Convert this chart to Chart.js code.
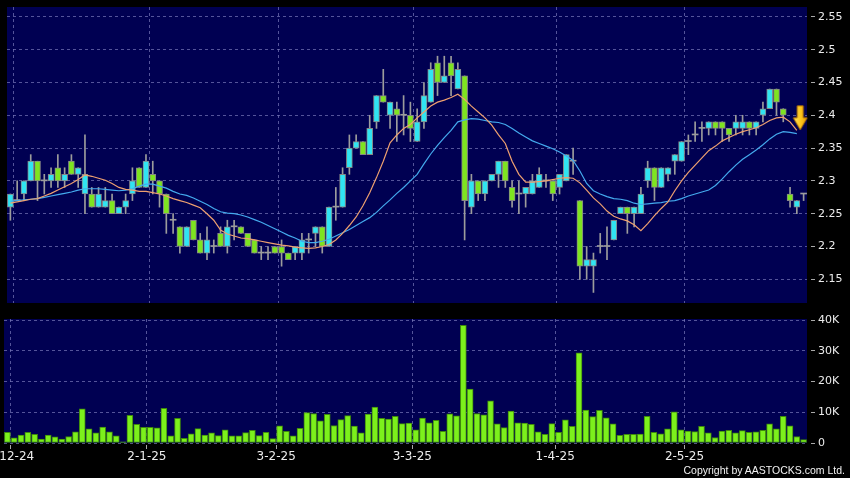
<!DOCTYPE html>
<html>
<head>
<meta charset="utf-8">
<script src="https://cdn.jsdelivr.net/npm/chart.js@4.4.1/dist/chart.umd.min.js"></script>
<style>
  html, body { margin: 0; padding: 0; background: #000; width: 850px; height: 478px; overflow: hidden; }
  #wrap { position: relative; width: 850px; height: 478px; }
  #pc { position: absolute; left: 0; top: 0; }
  #vc { position: absolute; left: 0; top: 310px; }
  #copy { position: absolute; right: 5px; top: 464px; font: 10.5px "Liberation Sans", Arial, sans-serif; color: #f2f2f2; white-space: nowrap; }
</style>
</head>
<body>
<div id="wrap">
  <canvas id="pc" width="850" height="310"></canvas>
  <canvas id="vc" width="850" height="168"></canvas>
  <div id="copy">Copyright by AASTOCKS.com Ltd.</div>
</div>
<script>
// ---------- DATA ----------
const open = [2.26,2.27,2.28,2.30,2.33,2.30,2.30,2.32,2.30,2.33,2.31,2.28,2.28,2.26,2.26,2.27,2.25,2.26,2.28,2.32,
2.29,2.31,2.30,2.28,2.24,2.23,2.20,2.24,2.21,2.19,2.20,2.22,2.20,2.23,2.23,2.22,2.21,2.19,2.19,2.20,
2.20,2.19,2.19,2.19,2.21,2.22,2.23,2.20,2.26,2.26,2.32,2.35,2.36,2.34,2.39,2.43,2.40,2.41,2.40,2.40,
2.36,2.39,2.42,2.48,2.45,2.48,2.44,2.46,2.26,2.30,2.28,2.30,2.31,2.33,2.29,2.28,2.28,2.28,2.29,2.30,
2.30,2.29,2.30,2.33,2.27,2.17,2.17,2.20,2.20,2.21,2.25,2.26,2.25,2.25,2.30,2.32,2.29,2.31,2.33,2.33,
2.36,2.37,2.38,2.38,2.39,2.39,2.38,2.38,2.38,2.39,2.38,2.40,2.41,2.44,2.41,2.28,2.26,2.28];
const high = [2.28,2.30,2.30,2.34,2.33,2.31,2.32,2.34,2.32,2.34,2.32,2.37,2.29,2.29,2.29,2.28,2.26,2.28,2.32,2.32,
2.34,2.33,2.30,2.28,2.25,2.23,2.23,2.24,2.22,2.23,2.21,2.23,2.24,2.24,2.23,2.22,2.21,2.20,2.20,2.20,
2.21,2.19,2.20,2.22,2.22,2.23,2.23,2.26,2.29,2.32,2.37,2.37,2.36,2.40,2.43,2.47,2.42,2.42,2.43,2.42,
2.41,2.45,2.48,2.49,2.49,2.49,2.48,2.46,2.31,2.30,2.30,2.31,2.33,2.33,2.30,2.30,2.29,2.31,2.32,2.31,
2.30,2.31,2.34,2.35,2.27,2.20,2.19,2.22,2.23,2.24,2.26,2.26,2.26,2.29,2.33,2.32,2.32,2.32,2.34,2.36,
2.37,2.39,2.39,2.39,2.39,2.39,2.38,2.40,2.40,2.39,2.39,2.42,2.44,2.44,2.41,2.29,2.27,2.28];
const low = [2.24,2.27,2.27,2.30,2.27,2.28,2.29,2.29,2.29,2.31,2.29,2.25,2.26,2.26,2.26,2.25,2.25,2.25,2.27,2.29,
2.29,2.28,2.26,2.22,2.22,2.19,2.20,2.21,2.19,2.18,2.19,2.20,2.19,2.21,2.22,2.20,2.19,2.18,2.18,2.19,
2.17,2.18,2.18,2.18,2.19,2.20,2.19,2.20,2.24,2.26,2.31,2.35,2.34,2.34,2.38,2.42,2.38,2.36,2.37,2.36,
2.36,2.38,2.42,2.43,2.45,2.43,2.44,2.21,2.25,2.27,2.27,2.30,2.29,2.29,2.26,2.25,2.26,2.28,2.29,2.29,
2.27,2.28,2.30,2.31,2.15,2.15,2.13,2.19,2.18,2.21,2.25,2.22,2.23,2.25,2.29,2.27,2.29,2.30,2.31,2.33,
2.34,2.36,2.36,2.37,2.37,2.36,2.36,2.37,2.37,2.37,2.37,2.39,2.41,2.40,2.39,2.26,2.25,2.27];
const close = [2.28,2.27,2.30,2.33,2.30,2.30,2.31,2.30,2.31,2.31,2.32,2.31,2.26,2.28,2.27,2.25,2.26,2.27,2.30,2.29,
2.33,2.30,2.28,2.25,2.24,2.20,2.23,2.21,2.19,2.21,2.20,2.20,2.23,2.23,2.22,2.20,2.19,2.19,2.19,2.19,
2.19,2.18,2.20,2.21,2.21,2.23,2.20,2.26,2.26,2.31,2.35,2.36,2.34,2.38,2.43,2.42,2.42,2.40,2.40,2.38,
2.39,2.43,2.47,2.45,2.46,2.46,2.47,2.27,2.30,2.28,2.30,2.31,2.33,2.30,2.27,2.28,2.29,2.30,2.31,2.30,
2.28,2.31,2.34,2.33,2.17,2.18,2.18,2.20,2.20,2.24,2.26,2.25,2.26,2.28,2.32,2.29,2.32,2.32,2.34,2.36,
2.36,2.37,2.38,2.39,2.38,2.38,2.37,2.39,2.39,2.38,2.39,2.41,2.44,2.42,2.40,2.27,2.27,2.28];
// volume in thousands of shares
const volumeK = [3.5,1.7,2.6,3.5,2.8,1.3,2.6,2.0,1.3,2.1,3.6,11.1,4.6,3.3,5.2,3.6,2.3,0.4,9.0,6.1,
5.1,5.1,4.9,11.3,2.3,8.0,1.5,3.0,4.7,2.6,3.3,2.4,4.3,2.3,2.3,3.4,4.1,2.4,3.5,1.4,
5.6,3.8,2.3,4.8,9.9,9.6,7.2,9.3,5.7,7.6,8.9,5.5,3.3,9.4,11.7,8.0,7.8,8.7,6.3,6.5,
4.3,8.1,6.6,7.4,3.8,9.5,8.8,38.3,17.5,9.6,9.2,13.7,6.2,5.0,10.4,6.6,6.5,6.1,3.6,2.8,
6.3,3.5,7.5,5.4,29.3,10.7,8.6,10.6,8.2,6.2,2.5,2.8,2.8,2.9,8.7,3.5,3.0,4.6,10.1,4.3,
3.9,3.7,5.4,3.3,1.8,3.9,4.1,3.3,4.0,3.5,3.6,4.1,6.2,4.6,8.7,5.6,2.1,1.1];
// short moving average (orange) and long moving average (blue), as drawn
const maShort = [2.266,2.268,2.270,2.272,2.273,2.277,2.281,2.286,2.291,2.296,2.302,2.309,2.307,2.304,2.301,2.296,2.290,2.287,2.286,2.284,
2.284,2.282,2.280,2.277,2.273,2.270,2.267,2.263,2.259,2.250,2.240,2.225,2.219,2.216,2.213,2.212,2.210,2.208,2.206,2.204,
2.202,2.201,2.199,2.198,2.197,2.198,2.200,2.203,2.210,2.220,2.232,2.245,2.262,2.282,2.305,2.330,2.358,2.370,2.380,2.386,
2.396,2.405,2.414,2.420,2.423,2.427,2.432,2.424,2.414,2.405,2.396,2.385,2.370,2.357,2.330,2.310,2.298,2.298,2.299,2.300,
2.302,2.304,2.305,2.304,2.297,2.286,2.274,2.265,2.254,2.246,2.242,2.239,2.233,2.224,2.235,2.247,2.258,2.268,2.285,2.300,
2.313,2.324,2.335,2.346,2.353,2.361,2.366,2.371,2.375,2.378,2.381,2.386,2.392,2.396,2.397,2.390,2.377];
const maLong = [2.269,2.270,2.271,2.272,2.273,2.275,2.277,2.279,2.281,2.283,2.286,2.288,2.288,2.288,2.287,2.286,2.285,2.286,2.288,2.292,
2.295,2.295,2.292,2.289,2.284,2.280,2.278,2.274,2.269,2.264,2.258,2.253,2.251,2.250,2.248,2.245,2.241,2.237,2.232,2.227,
2.222,2.217,2.213,2.208,2.206,2.206,2.208,2.211,2.216,2.221,2.226,2.232,2.238,2.244,2.252,2.262,2.271,2.281,2.290,2.300,
2.310,2.326,2.341,2.354,2.366,2.377,2.390,2.393,2.395,2.394,2.392,2.390,2.389,2.386,2.380,2.373,2.367,2.361,2.357,2.353,
2.349,2.344,2.338,2.331,2.315,2.296,2.285,2.280,2.276,2.273,2.272,2.270,2.266,2.264,2.265,2.266,2.267,2.269,2.270,2.273,
2.277,2.280,2.283,2.286,2.293,2.303,2.314,2.324,2.333,2.340,2.347,2.355,2.364,2.371,2.375,2.374,2.372];
// signal arrow (points down onto the end of the averages)
const signalMark = [{ x: 116.5, y: 2.378 }];
// x-axis date ticks: trading-day index and label
const dateTickIndex = [0, 20, 39, 59, 80, 99];
const dateTickLabels = ['2-12-24', '2-1-25', '3-2-25', '3-3-25', '1-4-25', '2-5-25'];
const priceTicks = [2.15, 2.2, 2.25, 2.3, 2.35, 2.4, 2.45, 2.5, 2.55];
const volumeTicksK = [0, 10, 20, 30, 40];
const volumeTickLabels = ['0', '10K', '20K', '30K', '40K'];

// ---------- STYLE ----------
const NAVY = '#000052';
const GRID = 'rgba(120,120,185,0.7)';
const UP = '#30e4f2';
const DOWN = '#7ee420';
const WICK = '#9c9c9c';
const BODY_EDGE = '#868686';
const ORANGE = '#eea070';
const BLUE = '#44aaee';
const VOL_FILL = '#7cf01c';
const VOL_EDGE = '#3f8a0c';
const TEXT = '#ececec';

Chart.defaults.font.family = '"DejaVu Sans", sans-serif';
Chart.defaults.color = TEXT;

const plotBg = {
  id: 'plotBg',
  beforeDraw(chart, args, opts) {
    const { ctx, chartArea: a } = chart;
    ctx.save();
    ctx.fillStyle = opts.color;
    ctx.fillRect(a.left, a.top, a.width, a.height);
    ctx.restore();
  }
};

function makeArrow() {
  const c = document.createElement('canvas');
  c.width = 16; c.height = 50;
  const g = c.getContext('2d');
  const grad = g.createLinearGradient(0, 0, 16, 0);
  grad.addColorStop(0, '#ffe66a');
  grad.addColorStop(0.5, '#ffc81e');
  grad.addColorStop(1, '#e09400');
  g.fillStyle = grad;
  g.strokeStyle = '#b87400';
  g.lineWidth = 1;
  g.beginPath();
  g.moveTo(5, 1); g.lineTo(11, 1); g.lineTo(11, 13); g.lineTo(15, 13);
  g.lineTo(8, 25); g.lineTo(1, 13); g.lineTo(5, 13); g.closePath();
  g.fill(); g.stroke();
  return c;
}

const idx = close.map((_, i) => i);
const lastX = close.length - 0.5;
const bodies = idx.map(i => ({ x: i, y: [Math.min(open[i], close[i]), Math.max(open[i], close[i])] }));
const wicks = idx.map(i => ({ x: i, y: [low[i], high[i]] }));
const bodyColors = idx.map(i => close[i] > open[i] ? UP : (close[i] < open[i] ? DOWN : WICK));
const bodyBorders = idx.map(i => close[i] === open[i] ? 0 : 1);
const shortLine = maShort.map((v, i) => ({ x: i, y: v }));
const longLine = maLong.map((v, i) => ({ x: i, y: v }));
const volBars = volumeK.map((v, i) => ({ x: i, y: v }));

function xAxis(showLabels) {
  return {
    type: 'linear',
    min: -0.5,
    max: lastX,
    offset: false,
    afterBuildTicks: s => { s.ticks = dateTickIndex.map(i => ({ value: i + 0.5 })); },
    afterFit: s => {
      s.paddingLeft = 0; s.paddingRight = 0;
      s.height = showLabels ? 35 : 0;
    },
    grid: {
      offset: false,
      color: GRID,
      lineWidth: 1,
      drawTicks: showLabels,
      tickLength: 6,
      tickColor: '#a8a8a8',
      tickBorderDash: [0, 2, 4, 100]
    },
    border: { display: false, dash: [3, 3] },
    ticks: {
      display: showLabels,
      autoSkip: false,
      maxRotation: 0,
      padding: 1,
      color: TEXT,
      font: { size: 12 },
      callback: (v) => {
        const k = dateTickIndex.indexOf(Math.round(v - 0.5));
        return k >= 0 ? dateTickLabels[k] : '';
      }
    }
  };
}

function yAxis(min, max, tickVals, labelFn) {
  return {
    type: 'linear',
    position: 'right',
    min: min,
    max: max,
    afterBuildTicks: s => { s.ticks = tickVals.map(v => ({ value: v })); },
    afterFit: s => { s.width = 43; s.paddingTop = 0; s.paddingBottom = 0; },
    grid: {
      color: GRID,
      lineWidth: 1,
      drawTicks: true,
      tickLength: 8,
      tickColor: '#a8a8a8',
      tickBorderDash: [0, 4, 4, 100]
    },
    border: { display: false, dash: [3, 3] },
    ticks: {
      padding: 3,
      color: TEXT,
      font: { size: 11 },
      callback: labelFn
    }
  };
}

const common = {
  responsive: false,
  animation: false,
  events: [],
  plugins: { legend: { display: false }, tooltip: { enabled: false }, plotBg: { color: NAVY } }
};

new Chart(document.getElementById('pc'), {
  type: 'bar',
  data: {
    datasets: [
      { type: 'scatter', data: signalMark, pointStyle: makeArrow(), pointRadius: 6, clip: false, order: 0 },
      { type: 'line', data: shortLine, borderColor: ORANGE, borderWidth: 1.2, pointRadius: 0, tension: 0, order: 1 },
      { type: 'line', data: longLine, borderColor: BLUE, borderWidth: 1.2, pointRadius: 0, tension: 0, order: 1 },
      { type: 'bar', data: bodies, backgroundColor: bodyColors, borderColor: BODY_EDGE, borderWidth: bodyBorders,
        borderSkipped: false, barThickness: 6, grouped: false, minBarLength: 1, order: 2 },
      { type: 'bar', data: wicks, backgroundColor: WICK, borderWidth: 0, barThickness: 1, grouped: false, order: 3 }
    ]
  },
  options: Object.assign({}, common, {
    layout: { padding: { left: 4, top: 5, right: 0, bottom: 5 } },
    scales: {
      x: xAxis(false),
      y: yAxis(2.1139, 2.565, priceTicks, v => String(v))
    }
  }),
  plugins: [plotBg]
});

new Chart(document.getElementById('vc'), {
  type: 'bar',
  data: {
    datasets: [
      { data: volBars, backgroundColor: VOL_FILL, borderColor: VOL_EDGE, borderWidth: 1,
        borderSkipped: false, barThickness: 6, grouped: false }
    ]
  },
  options: Object.assign({}, common, {
    layout: { padding: { left: 4, top: 9, right: 0, bottom: 0 } },
    scales: {
      x: xAxis(true),
      y: yAxis(0, 40.33, volumeTicksK, v => {
        const k = volumeTicksK.indexOf(v);
        return k >= 0 ? volumeTickLabels[k] : '';
      })
    }
  }),
  plugins: [plotBg]
});
</script>
</body>
</html>
